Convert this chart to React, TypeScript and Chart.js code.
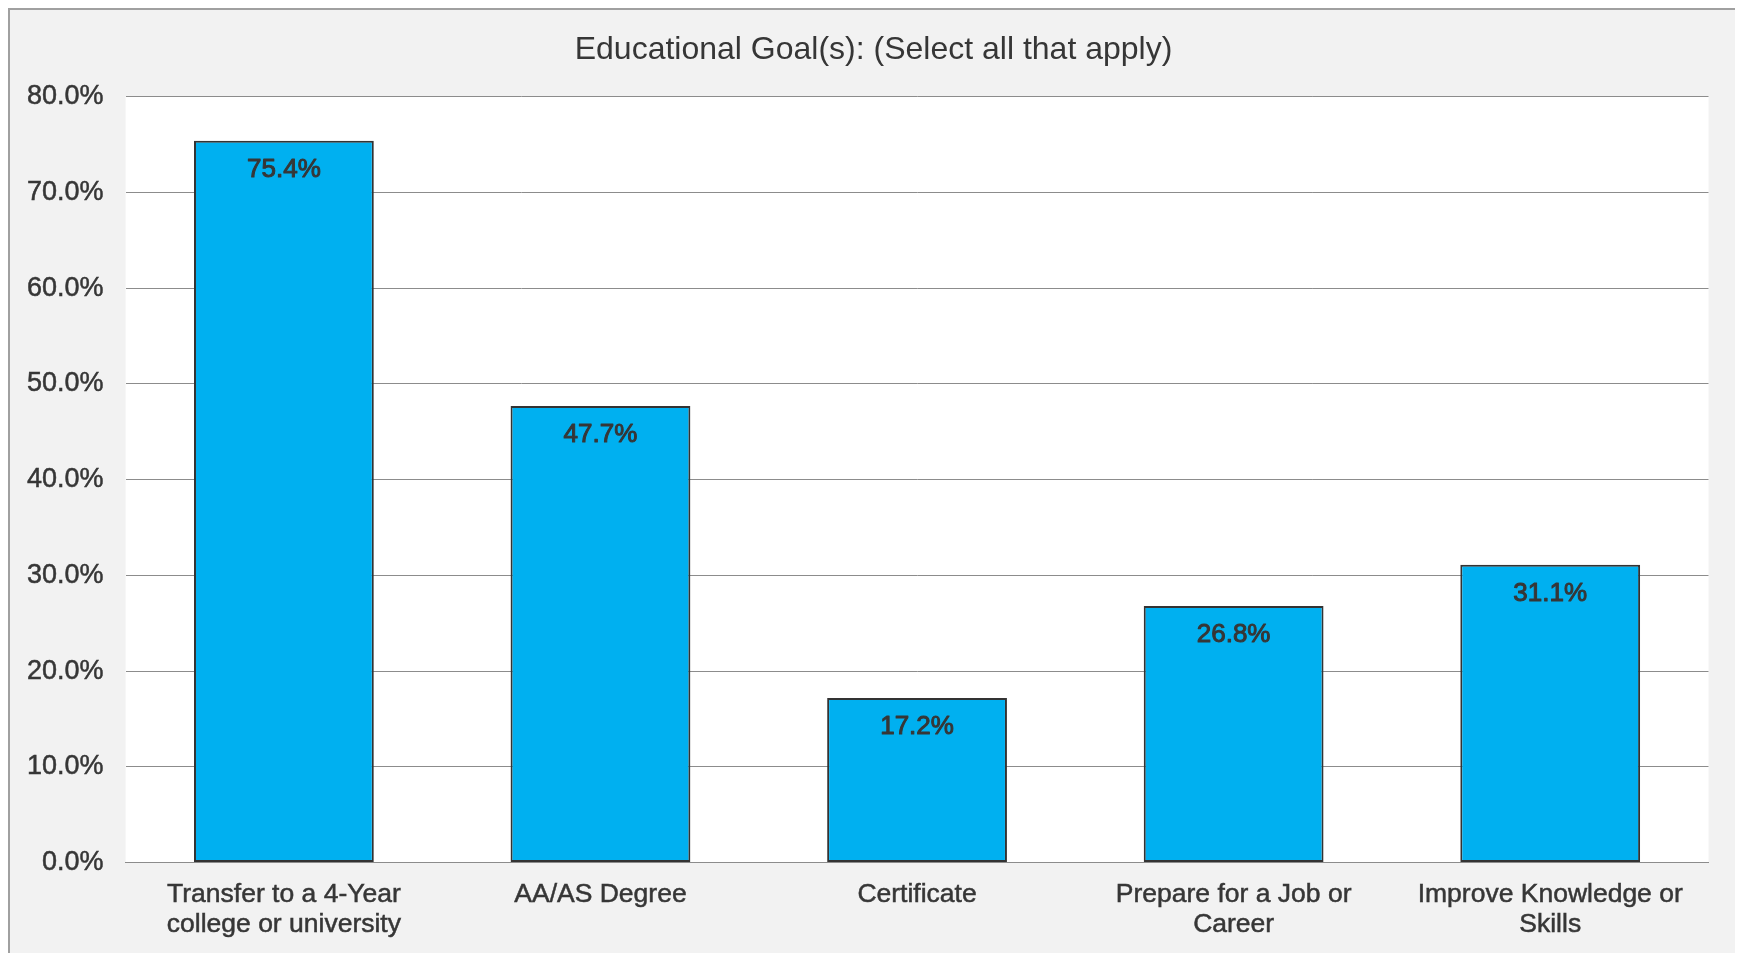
import React, { useEffect, useRef } from "react";
import { Chart, registerables } from "chart.js";

Chart.register(...registerables);

const TITLE = "Educational Goal(s): (Select all that apply)";
const categories: (string | string[])[] = [
  ["Transfer to a 4-Year", "college or university"],
  "AA/AS Degree",
  "Certificate",
  ["Prepare for a Job or", "Career"],
  ["Improve Knowledge or", "Skills"],
];
const values = [75.4, 47.7, 17.2, 26.8, 31.1];
const yMin = 0;
const yMax = 80;
const yStep = 10;

const FONT = "'Liberation Sans', Arial, sans-serif";
const TEXT = "#363636";

const plotBg = {
  id: "plotBg",
  beforeDraw(chart: any) {
    const { ctx, chartArea } = chart;
    ctx.save();
    ctx.fillStyle = "#ffffff";
    ctx.fillRect(chartArea.left, chartArea.top, chartArea.right - chartArea.left, chartArea.bottom - chartArea.top);
    ctx.restore();
  },
};

// Chart title, centred on the whole chart frame (not only the padded layout box)
const frameTitle = {
  id: "frameTitle",
  afterDraw(chart: any) {
    const { ctx } = chart;
    ctx.save();
    ctx.font = `normal 32px ${FONT}`;
    ctx.fillStyle = TEXT;
    ctx.textAlign = "center";
    ctx.textBaseline = "middle";
    ctx.fillText(TITLE, chart.width / 2, 40);
    ctx.restore();
  },
};

const barLabels = {
  id: "barLabels",
  afterDatasetsDraw(chart: any) {
    const { ctx } = chart;
    const meta = chart.getDatasetMeta(0);
    ctx.save();
    ctx.font = `normal 26px ${FONT}`;
    ctx.fillStyle = TEXT;
    ctx.strokeStyle = TEXT;
    ctx.lineWidth = 1;
    ctx.lineJoin = "round";
    ctx.textAlign = "center";
    ctx.textBaseline = "middle";
    meta.data.forEach((bar: any, i: number) => {
      const v = chart.data.datasets[0].data[i] as number;
      const t = v.toFixed(1) + "%";
      ctx.strokeText(t, bar.x, bar.y + 29);
      ctx.fillText(t, bar.x, bar.y + 29);
    });
    ctx.restore();
  },
};

export default function App() {
  const ref = useRef<HTMLCanvasElement | null>(null);
  useEffect(() => {
    document.body.style.overflow = "hidden";
    if (!ref.current) return;
    const chart = new Chart(ref.current, {
      type: "bar",
      data: {
        labels: categories,
        datasets: [
          {
            data: values,
            backgroundColor: "#00B0F0",
            borderColor: "#333333",
            borderWidth: 2,
            borderSkipped: false,
            barPercentage: 0.568,
            categoryPercentage: 1,
          },
        ],
      },
      options: {
        animation: false,
        responsive: false,
        maintainAspectRatio: false,
        layout: { padding: { left: 0, right: 28.5, top: 86.7, bottom: 0 } },
        plugins: {
          legend: { display: false },
          tooltip: { enabled: false },
          title: { display: false },
        },
        scales: {
          x: {
            grid: { display: false, drawTicks: false },
            border: { display: true, color: "#8c8c8c", width: 1 },
            ticks: {
              color: TEXT,
              textStrokeColor: TEXT,
              textStrokeWidth: 0.5,
              font: { family: FONT, size: 26.5, lineHeight: 1.13 },
              padding: 17.5,
              maxRotation: 0,
              minRotation: 0,
              autoSkip: false,
            },
            afterFit(scale: any) {
              scale.height = 90.4;
            },
          },
          y: {
            min: yMin,
            max: yMax,
            grid: { color: "#8c8c8c", lineWidth: 1, drawTicks: false },
            border: { display: false },
            ticks: {
              stepSize: yStep,
              color: TEXT,
              textStrokeColor: TEXT,
              textStrokeWidth: 0.5,
              font: { family: FONT, size: 27 },
              padding: 22,
              callback: (v: any) => Number(v).toFixed(1) + "%",
            },
            afterFit(scale: any) {
              scale.width = 115.6;
            },
          },
        },
      },
      plugins: [plotBg, barLabels, frameTitle],
    });
    return () => chart.destroy();
  }, []);
  return (
    <div
      style={{
        width: 1727,
        height: 943,
        background: "#f2f2f2",
        borderTop: "2px solid #a0a0a0",
        borderLeft: "2px solid #a0a0a0",
        borderRight: "2px solid #a0a0a0",
        borderBottom: "none",
        boxSizing: "content-box",
      }}
    >
      <canvas ref={ref} width={1727} height={943} style={{ display: "block", width: 1727, height: 943 }} />
    </div>
  );
}
